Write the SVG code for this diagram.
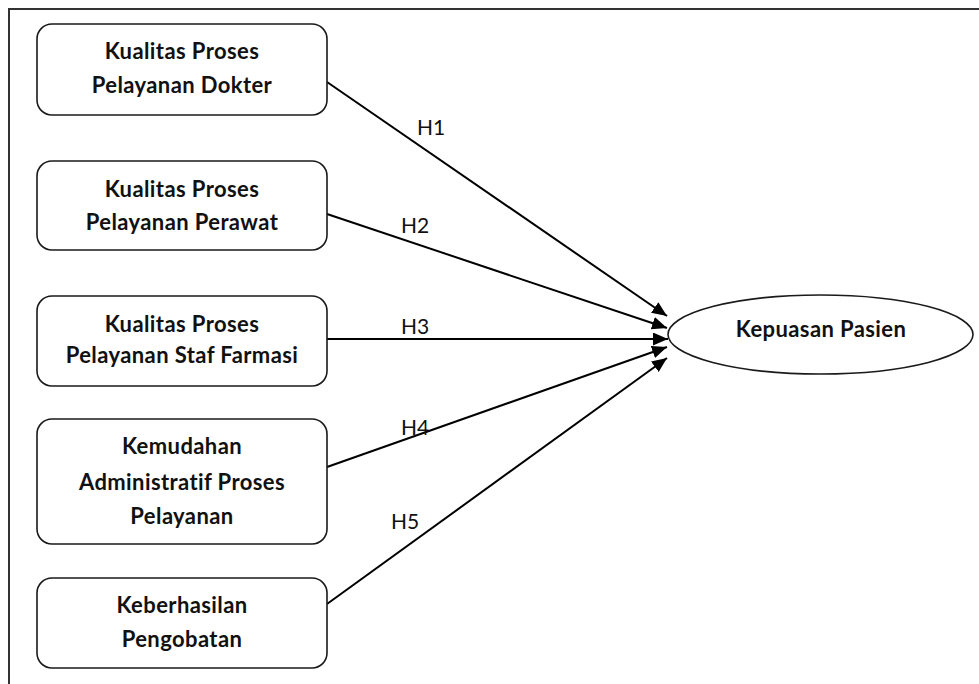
<svg xmlns="http://www.w3.org/2000/svg" width="979" height="684" viewBox="0 0 979 684">
  <style>
    .box { fill: #ffffff; stroke: #1a1a1a; stroke-width: 1.6; }
    .lbl { font-family: Lato, "Open Sans", "Liberation Sans", sans-serif; font-weight: bold; font-size: 22px; letter-spacing: 0.4px; fill: #111111; text-anchor: middle; }
    .h { font-family: Lato, "Open Sans", "Liberation Sans", sans-serif; font-size: 21px; fill: #111111; }
    .conn { stroke: #000000; stroke-width: 2; fill: none; marker-end: url(#arr); }
    .frame { stroke: #333333; stroke-width: 2; fill: none; }
  </style>
  <defs>
    <marker id="arr" markerUnits="userSpaceOnUse" markerWidth="16" markerHeight="14" refX="15" refY="6.5" orient="auto">
      <path d="M0,0 L15,6.5 L0,13 z" fill="#000000"/>
    </marker>
  </defs>
  <rect width="979" height="684" fill="#ffffff"/>
  <path class="frame" d="M9,684 L9,9 L979,9"/>

  <g id="connectors">
    <line class="conn" x1="327" y1="82" x2="667" y2="316"/>
    <line class="conn" x1="327" y1="214" x2="667" y2="328"/>
    <line class="conn" x1="327" y1="339" x2="668" y2="339"/>
    <line class="conn" x1="327" y1="467" x2="667" y2="347"/>
    <line class="conn" x1="327" y1="604" x2="667" y2="358"/>
    <text class="h" x="417" y="135">H1</text>
    <text class="h" x="401" y="233">H2</text>
    <text class="h" x="401" y="334">H3</text>
    <text class="h" x="401" y="435">H4</text>
    <text class="h" x="391" y="529">H5</text>
  </g>

  <g id="node1">
    <rect class="box" x="37" y="24" width="290" height="91" rx="15"/>
    <text class="lbl" x="182" y="59">Kualitas Proses</text>
    <text class="lbl" x="182" y="93">Pelayanan Dokter</text>
  </g>
  <g id="node2">
    <rect class="box" x="37" y="161" width="290" height="89" rx="15"/>
    <text class="lbl" x="182" y="197">Kualitas Proses</text>
    <text class="lbl" x="182" y="230">Pelayanan Perawat</text>
  </g>
  <g id="node3">
    <rect class="box" x="37" y="296" width="290" height="90" rx="15"/>
    <text class="lbl" x="182" y="332">Kualitas Proses</text>
    <text class="lbl" x="182" y="363">Pelayanan Staf Farmasi</text>
  </g>
  <g id="node4">
    <rect class="box" x="37" y="419" width="290" height="125" rx="15"/>
    <text class="lbl" x="182" y="454">Kemudahan</text>
    <text class="lbl" x="182" y="490">Administratif Proses</text>
    <text class="lbl" x="182" y="524">Pelayanan</text>
  </g>
  <g id="node5">
    <rect class="box" x="37" y="578" width="290" height="90" rx="15"/>
    <text class="lbl" x="182" y="613">Keberhasilan</text>
    <text class="lbl" x="182" y="647">Pengobatan</text>
  </g>
  <g id="node6">
    <ellipse class="box" cx="820.5" cy="334.5" rx="152.5" ry="39.5"/>
    <text class="lbl" x="821" y="337">Kepuasan Pasien</text>
  </g>
</svg>
